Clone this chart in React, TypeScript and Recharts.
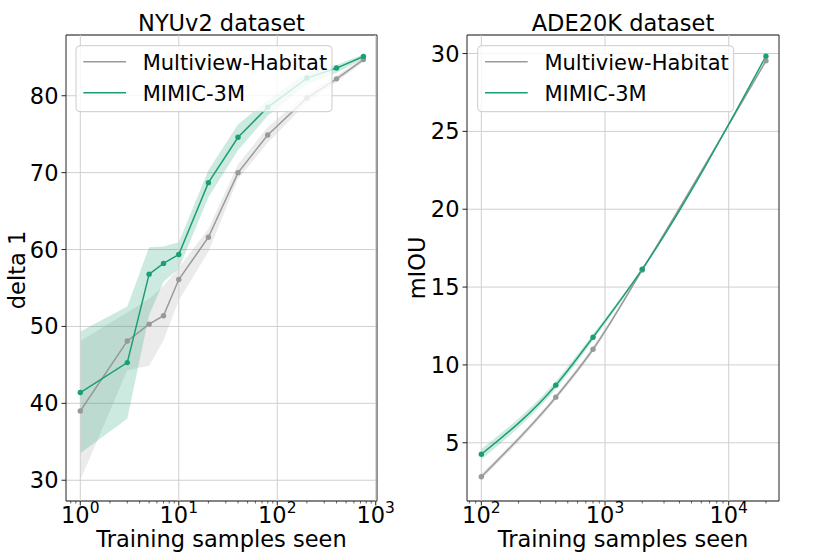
import React from 'react';
import {
  ComposedChart,
  Line,
  Area,
  XAxis,
  YAxis,
  CartesianGrid,
  ReferenceLine,
  ReferenceArea,
} from 'recharts';

const FONT = '"DejaVu Sans", sans-serif';
const GRAY = '#999999';
const GREEN = '#1b9e77';
const GRID = '#cfcfcf';
const SPINE = '#222222';

// NYUv2: 学習サンプル数ごとの delta 1
const nyuSamples = [1, 3, 5, 7, 10, 20, 40, 80, 200, 400, 750];
const nyuHabitat = [39.0, 48.1, 50.3, 51.4, 56.1, 61.6, 70.0, 74.9, 79.7, 82.2, 84.7];
const nyuHabitatLow = [30.0, 44.3, 44.9, 48.2, 53.4, 59.7, 69.2, 73.9, 79.1, 81.8, 84.4];
const nyuHabitatHigh = [48.1, 51.8, 53.6, 55.3, 57.6, 62.7, 71.1, 75.9, 80.3, 82.6, 85.0];
const nyuMimic = [41.4, 45.3, 56.8, 58.2, 59.35, 68.7, 74.6, 78.5, 82.3, 83.6, 85.1];
const nyuMimicLow = [33.5, 38.0, 51.5, 55.8, 57.5, 66.8, 72.9, 77.4, 81.5, 83.0, 84.8];
const nyuMimicHigh = [49.35, 52.6, 60.3, 60.4, 60.95, 70.3, 76.3, 79.4, 83.0, 84.0, 85.4];

// ADE20K: 学習サンプル数ごとの mIOU
const adeSamples = [100, 400, 800, 2000, 20000];
const adeHabitat = [2.82, 7.93, 11.01, 16.1, 29.53];
const adeHabitatLow = [2.62, 7.75, 10.83, 16.0, 29.43];
const adeHabitatHigh = [3.02, 8.1, 11.2, 16.2, 29.63];
const adeMimic = [4.26, 8.7, 11.78, 16.15, 29.83];
const adeMimicLow = [3.92, 8.45, 11.58, 16.05, 29.73];
const adeMimicHigh = [4.6, 8.95, 11.98, 16.25, 29.93];

// 目盛り
const nyuMajorTicks = [1, 10, 100, 1000];
const nyuMinorTicks = [0.8, 0.9, 2, 3, 4, 5, 6, 7, 8, 9, 20, 30, 40, 50, 60, 70, 80, 90, 200, 300, 400, 500, 600, 700, 800, 900];
const nyuYTicks = [30, 40, 50, 60, 70, 80];
const adeMajorTicks = [100, 1000, 10000];
const adeMinorTicks = [80, 90, 200, 300, 400, 500, 600, 700, 800, 900, 2000, 3000, 4000, 5000, 6000, 7000, 8000, 9000, 20000];
const adeYTicks = [5, 10, 15, 20, 25, 30];

const legendItems = [
  { name: 'Multiview-Habitat', color: GRAY },
  { name: 'MIMIC-3M', color: GREEN },
];

function buildRows(
  xs: number[],
  hab: number[],
  habLo: number[],
  habHi: number[],
  mim: number[],
  mimLo: number[],
  mimHi: number[],
) {
  return xs.map((x, i) => ({
    x,
    habitat: hab[i],
    habitatBand: [habLo[i], habHi[i]],
    mimic: mim[i],
    mimicBand: [mimLo[i], mimHi[i]],
  }));
}

const nyuRows = buildRows(nyuSamples, nyuHabitat, nyuHabitatLow, nyuHabitatHigh, nyuMimic, nyuMimicLow, nyuMimicHigh);
const adeRows = buildRows(adeSamples, adeHabitat, adeHabitatLow, adeHabitatHigh, adeMimic, adeMimicLow, adeMimicHigh);

function LogTick(props: any) {
  const { x, y, payload, majors } = props;
  const v = payload.value;
  const isMajor = majors.includes(v);
  const exp = Math.round(Math.log10(v));
  return (
    <g>
      <line
        x1={x}
        x2={x}
        y1={y}
        y2={y + (isMajor ? 4.5 : 2.5)}
        stroke={SPINE}
        strokeWidth={isMajor ? 1 : 0.7}
      />
      {isMajor && (
        <text x={x} y={y + 21.7} textAnchor="middle" fontFamily={FONT} fontSize={22.5} fill="#000">
          <tspan>10</tspan>
          <tspan dy={-9.7} fontSize={15.5}>
            {exp}
          </tspan>
        </text>
      )}
    </g>
  );
}

type PanelProps = {
  rows: any[];
  xDomain: [number, number];
  yDomain: [number, number];
  majors: number[];
  minors: number[];
  yTicks: number[];
  curve: 'linear' | 'monotone';
  width: number;
  yAxisWidth: number;
  marginRight: number;
};

function Panel({ rows, xDomain, yDomain, majors, minors, yTicks, curve, width, yAxisWidth, marginRight }: PanelProps) {
  const allTicks = [...majors, ...minors]
    .filter((t) => t >= xDomain[0] && t <= xDomain[1])
    .sort((a, b) => a - b);
  return (
    <ComposedChart width={width} height={554} data={rows} margin={{ top: 35, right: marginRight, bottom: 0, left: 0 }}>
      <CartesianGrid vertical={false} stroke={GRID} strokeWidth={1} />
      {majors.map((v) => (
        <ReferenceLine key={v} x={v} stroke={GRID} strokeWidth={1} />
      ))}
      <XAxis
        dataKey="x"
        type="number"
        scale="log"
        domain={xDomain}
        allowDataOverflow
        ticks={allTicks}
        interval={0}
        tickSize={0}
        tickMargin={0}
        tickLine={false}
        axisLine={false}
        height={53}
        tick={(p: any) => <LogTick {...p} majors={majors} />}
      />
      <YAxis
        type="number"
        domain={yDomain}
        allowDataOverflow
        ticks={yTicks}
        interval={0}
        width={yAxisWidth}
        tickSize={4.5}
        tickMargin={3}
        axisLine={false}
        tickLine={{ stroke: SPINE }}
        tick={{ fontSize: 22.5, fill: '#000', fontFamily: FONT }}
      />
      {/* Multiview-Habitat（グレー） */}
      <Area
        type={curve}
        dataKey="habitatBand"
        stroke="none"
        fill={GRAY}
        fillOpacity={0.2}
        dot={false}
        activeDot={false}
        isAnimationActive={false}
      />
      <Line
        type={curve}
        dataKey="habitat"
        stroke={GRAY}
        strokeWidth={1.5}
        dot={{ r: 2.7, fill: GRAY, stroke: GRAY, strokeWidth: 0 }}
        activeDot={false}
        isAnimationActive={false}
      />
      {/* MIMIC-3M（グリーン） */}
      <Area
        type={curve}
        dataKey="mimicBand"
        stroke="none"
        fill={GREEN}
        fillOpacity={0.22}
        dot={false}
        activeDot={false}
        isAnimationActive={false}
      />
      <Line
        type={curve}
        dataKey="mimic"
        stroke={GREEN}
        strokeWidth={1.5}
        dot={{ r: 2.7, fill: GREEN, stroke: GREEN, strokeWidth: 0 }}
        activeDot={false}
        isAnimationActive={false}
      />
      <ReferenceArea
        x1={xDomain[0]}
        x2={xDomain[1]}
        y1={yDomain[0]}
        y2={yDomain[1]}
        fill="none"
        stroke={SPINE}
        strokeWidth={1}
        ifOverflow="visible"
      />
    </ComposedChart>
  );
}

function LegendBox({ x, y }: { x: number; y: number }) {
  return (
    <g>
      <rect x={x} y={y} width={256} height={66} rx={4} fill="#fff" fillOpacity={0.8} stroke="#cccccc" strokeWidth={1} />
      {legendItems.map((s, i) => (
        <g key={s.name}>
          <line x1={x + 7.3} x2={x + 50} y1={y + 16 + i * 31} y2={y + 16 + i * 31} stroke={s.color} strokeWidth={1.4} />
          <text x={x + 66.7} y={y + 24.3 + i * 31} fontFamily={FONT} fontSize={21} fill="#000">
            {s.name}
          </text>
        </g>
      ))}
    </g>
  );
}

export default function App() {
  return (
    <div style={{ position: 'absolute', left: 0, top: 0, width: 830, height: 554, background: '#fff', fontFamily: FONT }}>
      <div style={{ position: 'absolute', left: 0, top: 0 }}>
        <Panel
          rows={nyuRows}
          xDomain={[0.716, 1030]}
          yDomain={[27.3, 87.9]}
          majors={nyuMajorTicks}
          minors={nyuMinorTicks}
          yTicks={nyuYTicks}
          curve="linear"
          width={420}
          yAxisWidth={66}
          marginRight={43}
        />
      </div>
      <div style={{ position: 'absolute', left: 420, top: 0 }}>
        <Panel
          rows={adeRows}
          xDomain={[76.6, 25500]}
          yDomain={[1.26, 31.19]}
          majors={adeMajorTicks}
          minors={adeMinorTicks}
          yTicks={adeYTicks}
          curve="monotone"
          width={410}
          yAxisWidth={47}
          marginRight={51}
        />
      </div>
      <svg
        width={830}
        height={554}
        style={{ position: 'absolute', left: 0, top: 0, pointerEvents: 'none' }}
      >
        <g fontFamily={FONT} fontSize={22.5} fill="#000">
          <text x={221.5} y={30.5} textAnchor="middle">NYUv2 dataset</text>
          <text x={623} y={30.5} textAnchor="middle">ADE20K dataset</text>
          <text x={221.5} y={547} textAnchor="middle">Training samples seen</text>
          <text x={623} y={547} textAnchor="middle">Training samples seen</text>
          <text transform="translate(25,270) rotate(-90)" textAnchor="middle">delta 1</text>
          <text transform="translate(425,268) rotate(-90)" textAnchor="middle">mIOU</text>
        </g>
        <LegendBox x={76} y={45.7} />
        <LegendBox x={477.7} y={45.7} />
      </svg>
    </div>
  );
}
